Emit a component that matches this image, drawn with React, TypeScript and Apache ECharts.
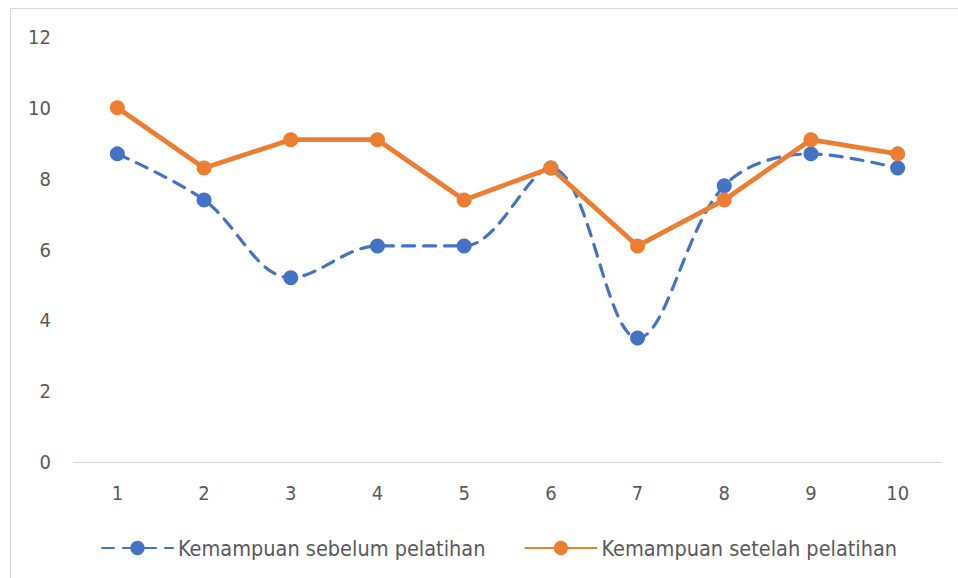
import React, { useEffect, useRef } from "react";
import * as echarts from "echarts";

const categories = ["1", "2", "3", "4", "5", "6", "7", "8", "9", "10"];
const sebelum = [8.7, 7.4, 5.2, 6.1, 6.1, 8.3, 3.5, 7.8, 8.7, 8.3];
const setelah = [10.0, 8.3, 9.1, 9.1, 7.4, 8.3, 6.1, 7.4, 9.1, 8.7];
const seriesNames = ["Kemampuan sebelum pelatihan", "Kemampuan setelah pelatihan"];

const FONT = "'DejaVu Sans Condensed', 'Liberation Sans Narrow', 'Noto Sans', sans-serif";
const TEXT = "#595959";

export default function App() {
  const ref = useRef<HTMLDivElement>(null);
  useEffect(() => {
    if (!ref.current) return;
    const chart = echarts.init(ref.current, null, { renderer: "svg" });
    chart.setOption({
      animation: false,
      backgroundColor: "#ffffff",
      textStyle: { fontFamily: FONT },
      graphic: [
        {
          type: "rect",
          shape: { x: 10.5, y: 8.5, width: 960, height: 590 },
          style: { fill: "none", stroke: "#d9d9d9", lineWidth: 1 },
          silent: true,
        },
      ],
      grid: { left: 74, right: 17, top: 37, bottom: 116, containLabel: false },
      legend: {
        left: 96,
        top: 532,
        itemWidth: 71,
        itemHeight: 18,
        itemGap: 39,
        textStyle: { color: TEXT, fontSize: 21.5, fontFamily: FONT },
        data: seriesNames,
      },
      xAxis: {
        type: "category",
        data: categories,
        boundaryGap: true,
        axisLine: { show: true, lineStyle: { color: "#d9d9d9", width: 1 } },
        axisTick: { show: false },
        axisLabel: { color: TEXT, fontSize: 20, margin: 21, fontFamily: FONT },
        splitLine: { show: false },
      },
      yAxis: {
        type: "value",
        min: 0,
        max: 12,
        interval: 2,
        axisLine: { show: false },
        axisTick: { show: false },
        axisLabel: { color: TEXT, fontSize: 20, margin: 23, fontFamily: FONT },
        splitLine: { show: false },
      },
      series: [
        {
          name: seriesNames[0],
          type: "line",
          data: sebelum,
          smooth: 0.35,
          symbol: "circle",
          symbolSize: 15,
          itemStyle: { color: "#4472c4" },
          lineStyle: { color: "#4472c4", width: 3.2, type: [12, 9], cap: "round" },
        },
        {
          name: seriesNames[1],
          type: "line",
          data: setelah,
          smooth: false,
          symbol: "circle",
          symbolSize: 15,
          itemStyle: { color: "#ed7d31" },
          lineStyle: { color: "#ed7d31", width: 4.8, cap: "round", join: "round" },
        },
      ],
    });
    return () => chart.dispose();
  }, []);
  return (
    <div
      ref={ref}
      style={{ position: "fixed", left: 0, top: 0, width: 958, height: 578 }}
    />
  );
}
